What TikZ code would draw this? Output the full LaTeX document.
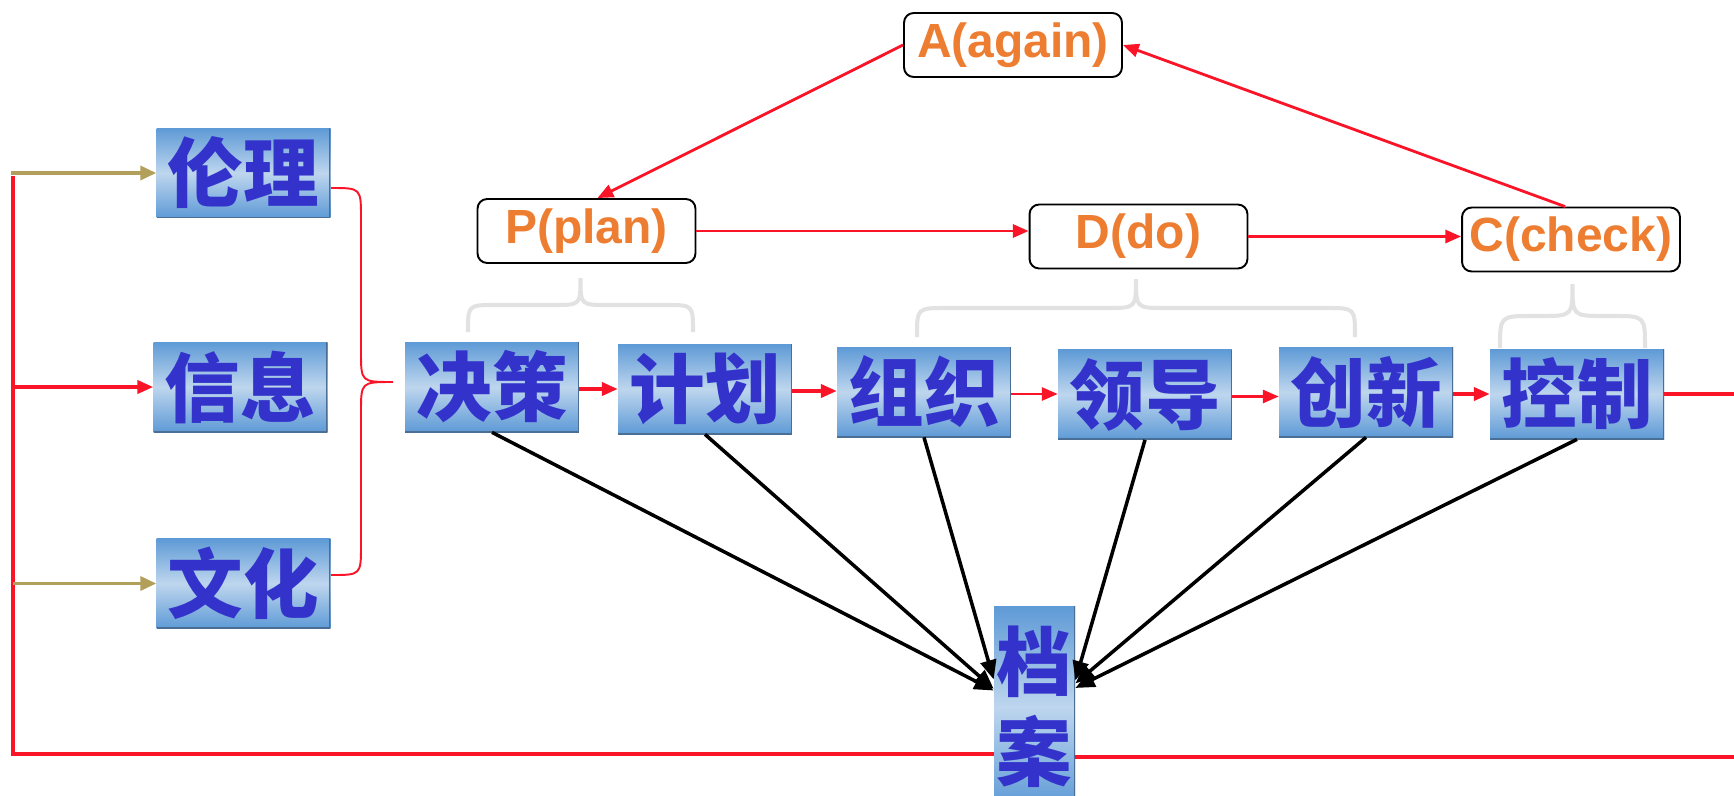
\documentclass[tikz,border=0pt]{standalone}
\usepackage{fontspec}
\newfontfamily\cjk{Noto Sans CJK SC}
\newfontfamily\pdcafont{Liberation Sans}
\usetikzlibrary{arrows.meta,calc}
\definecolor{boxtop}{RGB}{94,154,214}
\definecolor{boxmid}{RGB}{190,214,238}
\definecolor{boxedge}{RGB}{74,110,148}
\definecolor{txtblue}{RGB}{51,51,204}
\definecolor{pdcaorange}{RGB}{237,125,49}
\definecolor{linered}{RGB}{250,20,40}
\definecolor{lineolive}{RGB}{178,160,90}
\definecolor{bracegray}{RGB}{226,226,226}
\tikzset{
  taskbox/.style={rectangle, inner sep=0pt, minimum width=3.48cm, minimum height=1.8cm,
    top color=boxtop, bottom color=boxtop, middle color=boxmid,
    text=txtblue, font=\cjk\bfseries\fontsize{43}{51}\selectfont,
    path picture={\draw[boxedge,line width=1.6pt] (path picture bounding box.north east)
      -- (path picture bounding box.south east) -- (path picture bounding box.south west);}},
  pdcabox/.style={rectangle, rounded corners=5.5pt, draw=black, line width=1.1pt, fill=white,
    minimum width=4.36cm, minimum height=1.28cm, inner sep=0pt,
    text=pdcaorange, font=\pdcafont\bfseries\fontsize{27.3}{30}\selectfont},
  redline/.style={draw=linered, line width=1.9pt},
  redarrow/.style={redline, -{Triangle[length=9pt,width=7.5pt]}},
  olivearrow/.style={draw=lineolive, line width=1.9pt, -{Triangle[length=9pt,width=8pt]}},
  blackarrow/.style={draw=black, line width=2pt, -{Triangle[length=11pt,width=9pt]}},
  graybrace/.style={draw=bracegray, line width=2.3pt},
}
\begin{document}
\begin{tikzpicture}[x=0.02cm,y=-0.02cm]
\useasboundingbox (0,0) rectangle (1734,795);
\clip (0,0) rectangle (1734,795);

% PDCA boxes on top
\node[pdcabox] (again) at (1013,45) {A(again)};
\node[pdcabox] (plan) at (586.5,231) {P(plan)};
\node[pdcabox] (do) at (1138.5,236.5) {D(do)};
\node[pdcabox] (check) at (1571,239.5) {C(check)};

% Inputs on the left
\node[taskbox] (lunli) at (243.5,173) {伦理};
\node[taskbox] (xinxi) at (240.5,387) {信息};
\node[taskbox] (wenhua) at (243.5,583.5) {文化};

% The row of functions
\foreach \name/\txt/\x/\y in {juece/决策/492/387, jihua/计划/705/389, zuzhi/组织/924/392,
  lingdao/领导/1145/394.5, chuangxin/创新/1366/392, kongzhi/控制/1577/394}
{
  \node[taskbox] (\name) at (\x,\y) {\txt};
}

% Archive box, runs off the bottom
\node[taskbox, minimum width=1.62cm, minimum height=4.04cm, align=center] (dangan) at (1034.5,707) {档\\案};

% Feedback line round the left and the bottom
\coordinate (busTop) at (13,173);
\coordinate (busBot) at (13,754);
\coordinate (rightEnd) at (1734,757);
\draw[redline] ([yshift=-0.06cm]busTop) -- (busBot) -- (busBot -| dangan.west);
\draw[redline] (dangan.east |- rightEnd) -- (rightEnd);
\draw[redline] (kongzhi.east) -- (kongzhi.east -| rightEnd);
\draw[olivearrow] ([xshift=-0.04cm]busTop) -- (lunli.west);
\draw[redarrow] (xinxi.west -| busTop) -- (xinxi.west);
\draw[olivearrow] (wenhua.west -| busTop) -- (wenhua.west);

% Red brace joining the three inputs
\draw[linered, line width=1.1pt] (331,188) .. controls (361,188) .. (361,218) -- (361,352)
  .. controls (361,382) .. (393,382) .. controls (361,382) .. (361,412) -- (361,545)
  .. controls (361,575) .. (331,575);

% Gray braces under P, D and C
\foreach \xa/\xb/\yb/\h in {468/693/332/27, 917/1355/337/29, 1500/1645/348/32}
{
  \pgfmathsetmacro{\xm}{(\xa+\xb)/2}
  \pgfmathsetmacro{\yh}{\yb-\h}
  \draw[graybrace] (\xa,\yb) .. controls (\xa,\yh) .. (\xa+\h,\yh) -- (\xm-\h,\yh)
    .. controls (\xm,\yh) .. (\xm,\yh-\h) .. controls (\xm,\yh) .. (\xm+\h,\yh)
    -- (\xb-\h,\yh) .. controls (\xb,\yh) .. (\xb,\yb);
}

% Arrows along the row
\foreach \a/\b/\w in {juece/jihua/1.9, jihua/zuzhi/1.9, zuzhi/lingdao/1.2,
  lingdao/chuangxin/1.2, chuangxin/kongzhi/1.9}
{
  \draw[redarrow, line width=\w pt] ([yshift=-0.04cm]\a.east) -- ([yshift=-0.04cm]\a.east -| \b.west);
}

% PDCA cycle
\draw[redarrow, line width=1.6pt] (plan.east) -- (plan.east -| do.west);
\draw[redarrow, line width=1.6pt] (do.east) -- (do.east -| check.west);
\draw[redarrow, line width=1.6pt] ([xshift=-0.12cm]check.north) -- (again.east);
\draw[redarrow, line width=1.6pt] (again.west) -- ([xshift=0.22cm]plan.north);

% Everything goes into the archive
\foreach \src/\ang in {juece/158, jihua/156, zuzhi/146, lingdao/33, chuangxin/30, kongzhi/25}
{
  \draw[blackarrow] (\src.south) -- (dangan.\ang);
}
\end{tikzpicture}
\end{document}
